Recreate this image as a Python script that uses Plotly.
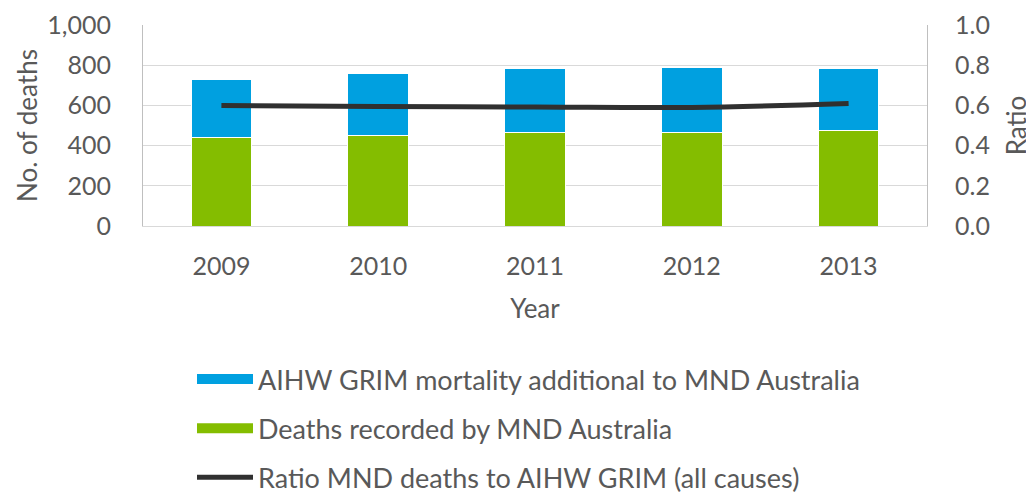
import plotly.graph_objects as go

years = ["2009", "2010", "2011", "2012", "2013"]
mnd_deaths = [440, 450, 465, 465, 475]
aihw_additional = [291, 307, 320, 325, 307]
ratio = [0.60, 0.594, 0.592, 0.59, 0.609]

FONT = "Lato, 'Open Sans', sans-serif"
GREY = "#595959"
BLUE = "#00a0e0"
GREEN = "#84bd00"
LINE = "#303030"
TICK_FS = 25
TITLE_FS = 26
LEG_FS = 27

W, H = 1026, 489
L, R, T, B = 135, 107, 17, 271
PW = W - L - R

fig = go.Figure()
fig.add_trace(go.Bar(
    x=years, y=mnd_deaths, name="Deaths recorded by MND Australia",
    marker=dict(color=GREEN, line=dict(color="white", width=1)),
    showlegend=False,
))
fig.add_trace(go.Bar(
    x=years, y=aihw_additional, name="AIHW GRIM mortality additional to MND Australia",
    marker=dict(color=BLUE, line=dict(color="white", width=1)),
    showlegend=False,
))
fig.add_trace(go.Scatter(
    x=years, y=ratio, name="Ratio MND deaths to AIHW GRIM (all causes)",
    mode="lines", line=dict(color=LINE, width=5, shape="spline"),
    yaxis="y2", legendrank=3, legendgroup="g3",
))
# legend entries for the bar series (wide rectangle swatches)
fig.add_trace(go.Scatter(
    x=[None], y=[None], mode="lines", name="AIHW GRIM mortality additional to MND Australia",
    line=dict(color=BLUE, width=14), legendrank=1, legendgroup="g1",
))
fig.add_trace(go.Scatter(
    x=[None], y=[None], mode="lines", name="Deaths recorded by MND Australia",
    line=dict(color=GREEN, width=14), legendrank=2, legendgroup="g2",
))

fig.update_layout(
    width=W, height=H,
    barmode="stack", bargap=0.613,
    plot_bgcolor="white", paper_bgcolor="white",
    margin=dict(l=L, r=R, t=T, b=B),
    font=dict(family=FONT, color=GREY, size=TICK_FS),
    xaxis=dict(
        title=dict(text="Year", font=dict(size=TITLE_FS, color=GREY), standoff=20),
        showline=True, linecolor="#d9d9d9", linewidth=1,
        tickfont=dict(size=TICK_FS, color=GREY),
        ticks="outside", ticklen=18, tickcolor="rgba(0,0,0,0)",
        automargin=False,
    ),
    yaxis=dict(
        title=dict(text="No. of deaths", font=dict(size=TITLE_FS, color=GREY), standoff=2),
        range=[0, 1000], dtick=200, tickformat=",",
        showgrid=True, gridcolor="#d9d9d9", gridwidth=1,
        showline=True, linecolor="#bfbfbf", linewidth=1,
        tickfont=dict(size=TICK_FS, color=GREY),
        ticks="outside", ticklen=26, tickcolor="rgba(0,0,0,0)",
        zeroline=False, automargin=False,
    ),
    yaxis2=dict(
        title=dict(text="Ratio", font=dict(size=TITLE_FS, color=GREY), standoff=18),
        overlaying="y", side="right",
        range=[0, 1.0], dtick=0.2, tickformat=".1f",
        showgrid=False, showline=True, linecolor="#bfbfbf", linewidth=1,
        tickfont=dict(size=TICK_FS, color=GREY),
        ticks="outside", ticklen=22, tickcolor="rgba(0,0,0,0)",
        zeroline=False, automargin=False,
    ),
    legend=dict(
        orientation="v", x=(184 - L) / PW, xref="paper", y=1 - 347 / H, yref="container",
        xanchor="left", yanchor="top",
        font=dict(size=LEG_FS, color=GREY), tracegroupgap=11,
        traceorder="grouped", bgcolor="rgba(0,0,0,0)", itemwidth=56,
    ),
)

fig.write_html("out.html")
